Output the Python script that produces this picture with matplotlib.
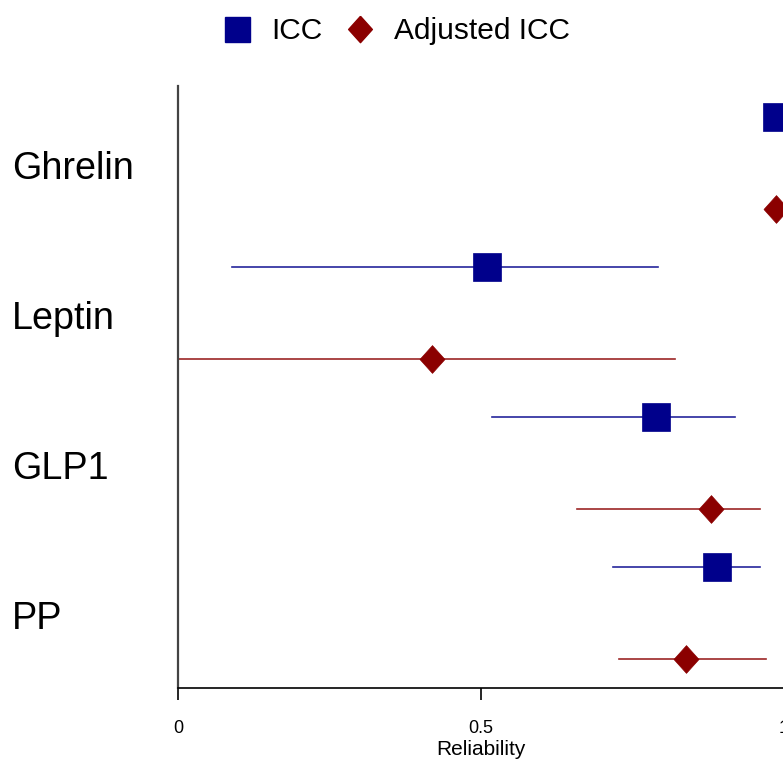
import matplotlib
matplotlib.use("Agg")
import matplotlib.pyplot as plt
from matplotlib.lines import Line2D
from matplotlib.transforms import blended_transform_factory
import numpy as np

plt.rcParams['font.family'] = ['Liberation Sans', 'DejaVu Sans']

categories = ["Ghrelin", "Leptin", "GLP1", "PP"]
icc = [0.988, 0.510, 0.789, 0.889]
icc_low = [0.970, 0.089, 0.518, 0.718]
icc_high = [0.995, 0.792, 0.919, 0.960]
adj = [0.987, 0.419, 0.880, 0.838]
adj_low = [0.975, -0.050, 0.658, 0.728]
adj_high = [0.995, 0.820, 0.960, 0.970]
series_labels = ["ICC", "Adjusted ICC"]
xticks = [0, 0.5, 1]
xticklabels = ["0", "0.5", "1"]

navy = "#00008B"
darkred = "#8B0000"

W, H = 783, 760
fig = plt.figure(figsize=(W / 100, H / 100), dpi=100)
ax = fig.add_axes([178 / W, (H - 688) / H, (784 - 178) / W, (688 - 86) / H])

diamond = [(0, 1), (0.9, 0), (0, -1), (-0.9, 0), (0, 1)]

offset = 92 / 150
for i, cat in enumerate(categories):
    y1 = i
    y2 = i + offset
    ax.plot([icc_low[i], icc_high[i]], [y1, y1], color=navy, lw=1.2, alpha=0.85, zorder=2)
    ax.plot([icc[i]], [y1], marker='s', ms=20, color=navy, mec=navy, mew=0.5, linestyle='none', zorder=3)
    ax.plot([adj_low[i], adj_high[i]], [y2, y2], color=darkred, lw=1.2, alpha=0.85, zorder=2)
    ax.plot([adj[i]], [y2], marker=diamond, ms=20, color=darkred, mec=darkred, mew=0.5, linestyle='none', zorder=3)

ax.set_xlim(0, 1)
ax.set_ylim(3.807, -0.207)

ax.spines['top'].set_visible(False)
ax.spines['right'].set_visible(False)
ax.spines['left'].set_color('#444444')
ax.spines['left'].set_linewidth(1.6)
ax.spines['bottom'].set_color('black')
ax.spines['bottom'].set_linewidth(1.2)
ax.set_yticks([])
ax.set_xticks(xticks)
ax.set_xticklabels(xticklabels, fontsize=13)
ax.tick_params(axis='x', length=8.5, width=1.2, pad=14.5)
ax.set_xlabel("Reliability", fontsize=15, labelpad=2)

trans = blended_transform_factory(fig.transFigure, ax.transData)
for i, cat in enumerate(categories):
    fig.text(12 / W, i + 0.413, cat, transform=trans, fontsize=27.2, ha='left', va='baseline')

handles = [
    Line2D([], [], marker='s', ms=18, color=navy, linestyle='none'),
    Line2D([], [], marker=diamond, ms=19, color=darkred, linestyle='none'),
]
fig.legend(handles, series_labels, loc='center left', bbox_to_anchor=(222 / W, 1 - 31 / H),
           ncol=2, frameon=False, fontsize=21.5, handlelength=1.0, handletextpad=0.65,
           columnspacing=0.74, borderpad=0, borderaxespad=0)

fig.savefig("out.png", dpi=100)
